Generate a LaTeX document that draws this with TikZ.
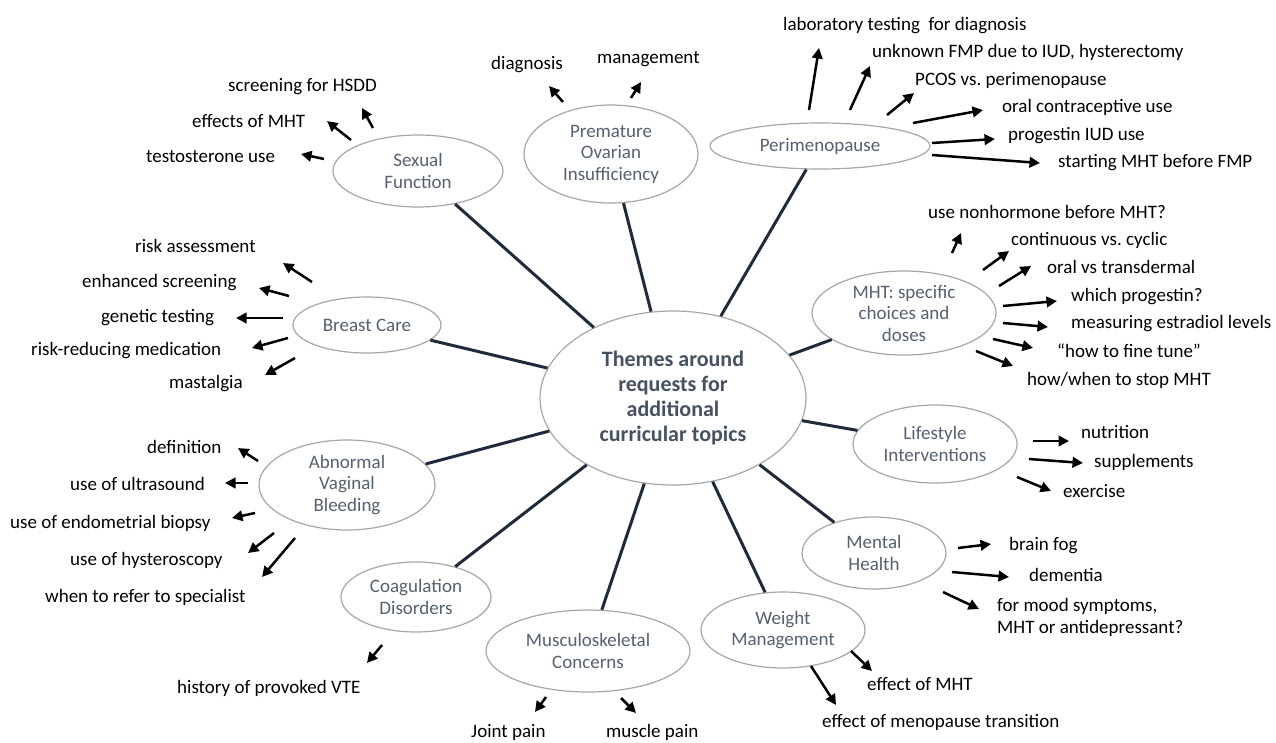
\documentclass[tikz,border=0pt]{standalone}
\usepackage{fontspec}
\setmainfont{Carlito}
\usetikzlibrary{shapes.geometric,arrows.meta}
\definecolor{linkcol}{HTML}{1F2A3A}
\definecolor{ellcol}{HTML}{A6A6A6}
\definecolor{topictxt}{HTML}{556070}
\definecolor{centertxt}{HTML}{465262}
\newcommand\myarrow[3]{\coordinate (#1s) at (#2); \coordinate (#1e) at (#3); \draw[arr] (#1s) -- (#1e);}
\tikzset{
  topic/.style 2 args={ellipse, draw=ellcol, line width=1.2pt, fill=white, text=topictxt,
    align=center, inner sep=0pt, minimum width=#1, minimum height=#2,
    font=\fontsize{19}{21.5}\selectfont},
  centre/.style={ellipse, draw=ellcol, line width=1.2pt, fill=white, text=centertxt,
    align=center, inner sep=0pt, minimum width=266pt, minimum height=174pt,
    font=\fontsize{22}{24.7}\selectfont\bfseries},
  item/.style={anchor=base west, inner sep=0pt, text=black, font=\fontsize{19}{22}\selectfont},
  link/.style={draw=linkcol, line width=3pt},
  arr/.style={-{Triangle[length=10.5pt,width=10.5pt]}, line width=2.5pt, black}
}
\frenchspacing
\begin{document}
\begin{tikzpicture}[x=1pt,y=-1pt]
\useasboundingbox (0,0) rectangle (1276,742);
% centre and topics
\node[centre] (c) at (673,398) {Themes around\\requests for\\additional\\curricular topics};
\node[topic={220pt}{46pt}] (per) at (820,146) {Perimenopause};
\node[topic={174pt}{98pt}] (poi) at (611,154) {Premature\\Ovarian\\Insufficiency};
\node[topic={170pt}{72pt}] (sex) at (418,171) {Sexual\\Function};
\node[topic={148pt}{56pt}] (brc) at (367,325) {Breast Care};
\node[topic={176pt}{90pt}] (avb) at (347,485) {Abnormal\\Vaginal\\Bleeding};
\node[topic={150pt}{70pt}] (coa) at (416,597) {Coagulation\\Disorders};
\node[topic={204pt}{82pt}] (msk) at (588,651) {Musculoskeletal\\Concerns};
\node[topic={164pt}{76pt}] (wgt) at (783,630) {Weight\\Management};
\node[topic={144pt}{72pt}] (mnt) at (874,553) {Mental\\Health};
\node[topic={164pt}{78pt}] (lif) at (935,444) {Lifestyle\\Interventions};
\node[topic={184pt}{84pt}] (mht) at (904,313) {MHT: specific\\choices and\\doses};
% links
\foreach \t in {per,poi,sex,brc,avb,coa,msk,wgt,mnt,lif,mht}
  \draw[link] (c) -- (\t);
% Perimenopause items
\node[item] (per1) at (783,30) {laboratory testing\ \ for diagnosis};
\node[item] (per2) at (872,57) {unknown FMP due to IUD, hysterectomy};
\node[item] (per3) at (915,85) {PCOS vs. perimenopause};
\node[item] (per4) at (1002,112) {oral contraceptive use};
\node[item] (per5) at (1008,140) {progestin IUD use};
\node[item] (per6) at (1058,167) {starting MHT before FMP};
\myarrow{pa1}{809,110}{819,48}
\myarrow{pa2}{850,110}{870,66}
\myarrow{pa3}{887,115}{914,93}
\myarrow{pa4}{913,123}{983,110}
\myarrow{pa5}{932,143}{995,139}
\myarrow{pa6}{932,155}{1040,163}
% POI items
\node[item] (poi1) at (491,69) {diagnosis};
\node[item] (poi2) at (597,63) {management};
\myarrow{oa1}{563,102}{549,86}
\myarrow{oa2}{631,98}{641,82}
% Sexual function items
\node[item] (sex1) at (228,91) {screening for HSDD};
\node[item] (sex2) at (192,127) {effects of MHT};
\node[item] (sex3) at (146,162) {testosterone use};
\myarrow{sa1}{373,128}{362,108}
\myarrow{sa2}{351,140}{327,121}
\myarrow{sa3}{324,159}{301,154}
% Breast care items
\node[item] (brc1) at (135,252) {risk assessment};
\node[item] (brc2) at (82,287) {enhanced screening};
\node[item] (brc3) at (101,322) {genetic testing};
\node[item] (brc4) at (31,355) {risk-reducing medication};
\node[item] (brc5) at (169,388) {mastalgia};
\myarrow{ba1}{312,282}{283,263}
\myarrow{ba2}{289,296}{259,288}
\myarrow{ba3}{283,318}{236,318}
\myarrow{ba4}{288,338}{252,348}
\myarrow{ba5}{295,358}{265,375}
% AVB items
\node[item] (avb1) at (147,453) {definition};
\node[item] (avb2) at (70,490) {use of ultrasound};
\node[item] (avb3) at (10,528) {use of endometrial biopsy};
\node[item] (avb4) at (70,565) {use of hysteroscopy};
\node[item] (avb5) at (45,602) {when to refer to specialist};
\myarrow{va1}{258,461}{238,448}
\myarrow{va2}{248,483}{225,483}
\myarrow{va3}{255,513}{232,518}
\myarrow{va4}{274,533}{248,553}
\myarrow{va5}{295,538}{262,577}
% Coagulation
\node[item] (coa1) at (177,693) {history of provoked VTE};
\myarrow{ca1}{382,645}{367,663}
% Musculoskeletal
\node[item] (msk1) at (471,737) {Joint pain};
\node[item] (msk2) at (606,737) {muscle pain};
\myarrow{ma1}{546,697}{535,712}
\myarrow{ma2}{621,698}{636,713}
% Weight
\node[item] (wgt1) at (867,690) {effect of MHT};
\node[item] (wgt2) at (822,727) {effect of menopause transition};
\myarrow{wa1}{851,651}{872,671}
\myarrow{wa2}{811,666}{836,705}
% Mental health
\node[item] (mnt1) at (1009,550) {brain fog};
\node[item] (mnt2) at (1029,581) {dementia};
\node[item, align=left, anchor=north west] (mnt3) at (997,598) {for mood symptoms,\\MHT or antidepressant?};
\myarrow{na1}{958,548}{991,544}
\myarrow{na2}{952,572}{1009,577}
\myarrow{na3}{943,592}{979,609}
% Lifestyle
\node[item] (lif1) at (1081,438) {nutrition};
\node[item] (lif2) at (1094,467) {supplements};
\node[item] (lif3) at (1063,497) {exercise};
\myarrow{la1}{1033,441}{1069,441}
\myarrow{la2}{1029,459}{1083,463}
\myarrow{la3}{1017,477}{1051,491}
% MHT
\node[item] (mht1) at (928,218) {use nonhormone before MHT?};
\node[item] (mht2) at (1011,245) {continuous vs. cyclic};
\node[item] (mht3) at (1047,273) {oral vs transdermal};
\node[item] (mht4) at (1071,301) {which progestin?};
\node[item] (mht5) at (1071,328) {measuring estradiol levels};
\node[item] (mht6) at (1057,357) {“how to fine tune”};
\node[item] (mht7) at (1027,385) {how/when to stop MHT};
\myarrow{ha1}{952,253}{961,233}
\myarrow{ha2}{983,270}{1009,251}
\myarrow{ha3}{999,286}{1031,266}
\myarrow{ha4}{1003,306}{1057,301}
\myarrow{ha5}{1003,323}{1048,327}
\myarrow{ha6}{993,339}{1033,348}
\myarrow{ha7}{976,351}{1013,366}
\end{tikzpicture}
\end{document}
